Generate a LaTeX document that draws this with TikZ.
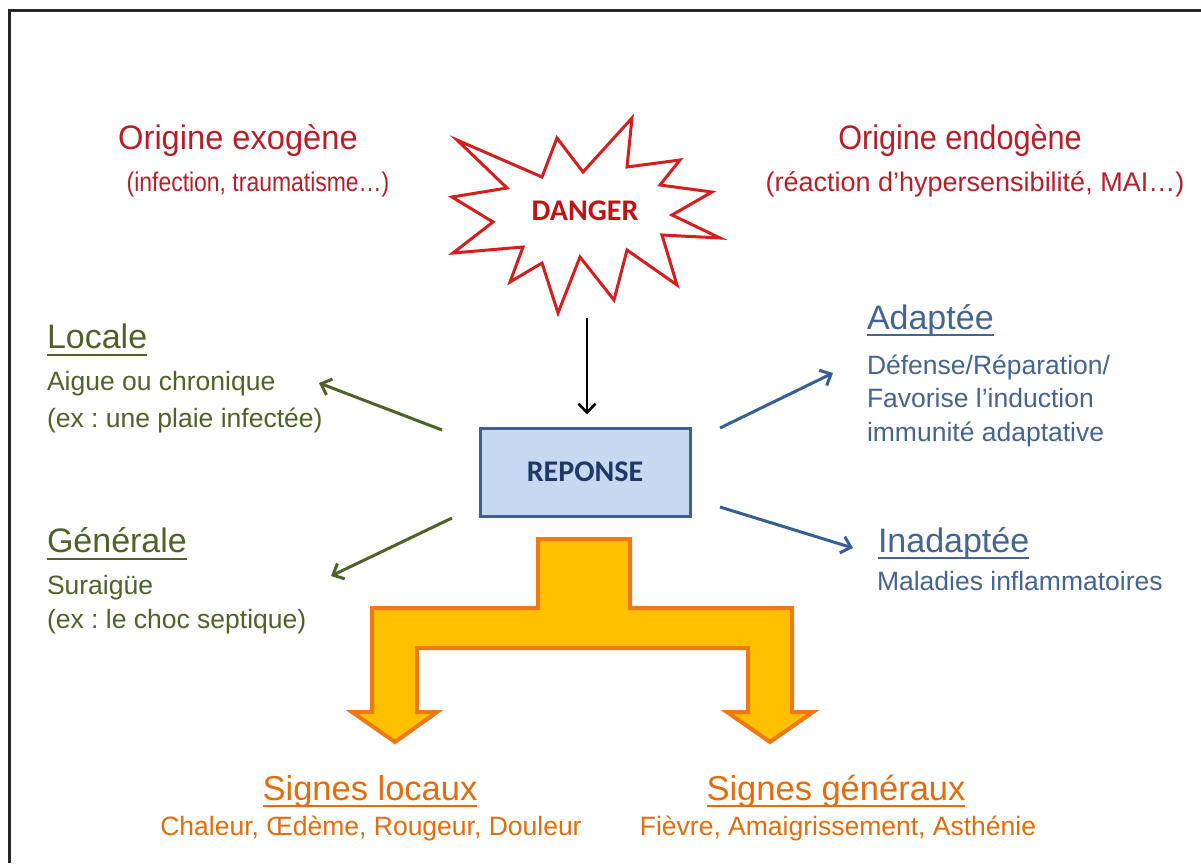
\documentclass[tikz,border=0pt]{standalone}
\usepackage{fontspec}
\setmainfont{Liberation Sans}
\newfontfamily\carlito{Carlito}
\usetikzlibrary{arrows.meta}
\definecolor{dred}{RGB}{185,30,40}
\definecolor{starred}{RGB}{215,30,30}
\definecolor{dangerred}{RGB}{190,20,20}
\definecolor{olive}{RGB}{79,98,40}
\definecolor{steel}{RGB}{55,96,146}
\definecolor{steeltxt}{RGB}{68,100,146}
\definecolor{boxfill}{RGB}{198,217,241}
\definecolor{boxline}{RGB}{65,95,140}
\definecolor{navy}{RGB}{31,56,100}
\definecolor{gold}{RGB}{255,192,0}
\definecolor{orangeline}{RGB}{240,120,20}
\definecolor{orangetxt}{RGB}{228,108,10}
\newcommand\fsz[1]{\fontsize{#1}{#1}\selectfont}
\frenchspacing
\begin{document}
\begin{tikzpicture}[x=1pt,y=-1pt,
  txt/.style={inner sep=0pt,outer sep=0pt,anchor=base west},
  ctxt/.style={inner sep=0pt,outer sep=0pt,anchor=base},
  head/.style={font=\fsz{34}},
  sub/.style={font=\fsz{26.5}},
  ulline/.style={line width=2.2pt},
  greenarrow/.style={draw=olive,line width=3pt,-{Straight Barb[length=9pt,width=17pt]}},
  bluearrow/.style={draw=steel,line width=3pt,-{Straight Barb[length=9pt,width=17pt]}},
  blackarrow/.style={draw=black,line width=2.6pt,-{Straight Barb[length=9pt,width=17pt]}}]
\useasboundingbox (0,0) rectangle (1201,863);
\fill[white] (0,0) rectangle (1201,863);
% frame
\draw[line width=3pt,black!85] (9,863) -- (9,10) -- (1201,10);

% origins
\node[ctxt,text=dred,font=\fsz{34},xscale=0.96] (exo) at (238,149) {Origine exogène};
\node[ctxt,text=dred,font=\fsz{27},xscale=0.85] (exosub) at (258,191) {(infection, traumatisme…)};
\node[ctxt,text=dred,font=\fsz{34},xscale=0.9] (endo) at (960,149) {Origine endogène};
\node[ctxt,text=dred,font=\fsz{27},xscale=1.0] (endosub) at (975,191) {(réaction d’hypersensibilité, MAI…)};

% starburst
\draw[draw=starred,fill=white,line width=3pt,line join=miter]
 (457,140) -- (542,177) -- (557,138) -- (583,172) -- (632,118) -- (627,167)
 -- (680,160) -- (660,185) -- (712,192) -- (672,215) -- (720,238) -- (662,235)
 -- (677,285) -- (627,250) -- (614,300) -- (580,257) -- (558,313) -- (542,263)
 -- (510,282) -- (523,247) -- (453,253) -- (493,222) -- (452,197) -- (507,188) -- cycle;
\node[inner sep=0pt,text=dangerred,font=\carlito\bfseries\fsz{30}] (danger) at (585,211) {DANGER};
\coordinate (dangerbot) at (587,318);

% response box
\node[draw=boxline,fill=boxfill,line width=3pt,minimum width=210pt,minimum height=88pt,
      inner sep=0pt,text=navy,font=\carlito\bfseries\fsz{30}] (rep) at (585,472) {REPONSE};
\draw[blackarrow,shorten >=12pt] (dangerbot) -- (dangerbot |- rep.north);

% left texts
\node[txt,head,text=olive] (loc) at (47,348) {Locale};
\draw[ulline,olive] ([yshift=-7pt]loc.base west) -- ([yshift=-7pt]loc.base east);
\node[txt,sub,text=olive] (loc1) at (47,390) {Aigue ou chronique};
\node[txt,sub,text=olive] (loc2) at (47,427) {(ex : une plaie infectée)};
\node[txt,head,text=olive] (gen) at (47,552) {Générale};
\draw[ulline,olive] ([yshift=-7pt]gen.base west) -- ([yshift=-7pt]gen.base east);
\node[txt,sub,text=olive] (gen1) at (47,594) {Suraigüe};
\node[txt,sub,text=olive] (gen2) at (47,628) {(ex : le choc septique)};

% right texts
\node[txt,head,text=steeltxt] (ada) at (867,329) {Adaptée};
\draw[ulline,steeltxt] ([yshift=-6pt]ada.base west) -- ([yshift=-6pt]ada.base east);
\node[txt,sub,text=steeltxt] (ada1) at (867,374) {Défense/Réparation/};
\node[txt,sub,text=steeltxt] (ada2) at (867,407) {Favorise l’induction};
\node[txt,sub,text=steeltxt] (ada3) at (867,441) {immunité adaptative};
\node[txt,head,text=steeltxt] (ina) at (878,552) {Inadaptée};
\draw[ulline,steeltxt] ([yshift=-6pt]ina.base west) -- ([yshift=-6pt]ina.base east);
\node[txt,sub,text=steeltxt] (ina1) at (877,590) {Maladies inflammatoires};

% side arrows
\coordinate (locS) at (442,430);
\coordinate (locE) at (319,383);
\coordinate (genS) at (452,518);
\coordinate (genE) at (331,576);
\coordinate (adaS) at (720,428);
\coordinate (adaE) at (833,373);
\coordinate (inaS) at (720,507);
\coordinate (inaE) at (853,548);
\draw[greenarrow] (locS) -- (locE);
\draw[greenarrow] (genS) -- (genE);
\draw[bluearrow] (adaS) -- (adaE);
\draw[bluearrow] (inaS) -- (inaE);

% orange split arrow
\draw[fill=gold,draw=orangeline,line width=4pt,line join=miter]
 (538,539) -- (630,539) -- (630,608) -- (792,608) -- (792,712) -- (813,712)
 -- (770,742) -- (727,712) -- (748,712) -- (748,648) -- (417,648) -- (417,712)
 -- (437,712) -- (395,742) -- (352,712) -- (372,712) -- (372,608) -- (538,608) -- cycle;

% bottom texts
\node[ctxt,text=orangetxt,font=\fsz{34.5}] (sl) at (370,800) {Signes locaux};
\draw[ulline,orangetxt] ([yshift=-6pt]sl.base west) -- ([yshift=-6pt]sl.base east);
\node[ctxt,sub,text=orangetxt] (sl1) at (371,835) {Chaleur, Œdème, Rougeur, Douleur};
\node[ctxt,text=orangetxt,font=\fsz{34.5}] (sg) at (836,800) {Signes généraux};
\draw[ulline,orangetxt] ([yshift=-6pt]sg.base west) -- ([yshift=-6pt]sg.base east);
\node[ctxt,sub,text=orangetxt] (sg1) at (838,835) {Fièvre, Amaigrissement, Asthénie};
\end{tikzpicture}
\end{document}
